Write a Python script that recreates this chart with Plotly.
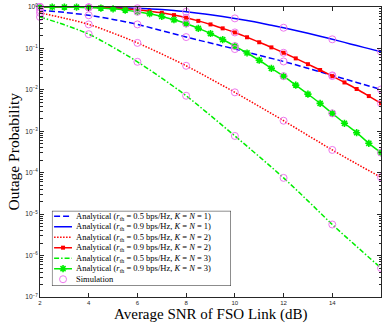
import plotly.graph_objects as go

# ---------------- data ----------------
snr_half = [2.0, 2.5, 3.0, 3.5, 4.0, 4.5, 5.0, 5.5, 6.0, 6.5, 7.0, 7.5, 8.0, 8.5, 9.0,
            9.5, 10.0, 10.5, 11.0, 11.5, 12.0, 12.5, 13.0, 13.5, 14.0, 14.5, 15.0, 15.5, 16.0]
snr_int = [2, 3, 4, 5, 6, 7, 8, 9, 10, 11, 12, 13, 14, 15, 16]
snr_sim = [2, 4, 6, 8, 10, 12, 14, 16]

# Analytical r_th = 0.5, K=N=1 (blue dashed)
p05_k1 = [0.837, 0.741, 0.631, 0.501, 0.380, 0.269, 0.188, 0.135, 0.0966, 0.0684,
          0.0484, 0.0331, 0.0224, 0.0151, 0.0102]
# Analytical r_th = 0.9, K=N=1 (blue solid)
p09_k1 = [1.0, 0.998, 0.995, 0.991, 0.986, 0.977, 0.966, 0.951, 0.933, 0.902,
          0.867, 0.822, 0.767, 0.711, 0.653, 0.592, 0.531, 0.473, 0.417, 0.363,
          0.316, 0.272, 0.232, 0.197, 0.166, 0.140, 0.117, 0.0989, 0.0832]
# Analytical r_th = 0.5, K=N=2 (red dotted)
p05_k2 = [0.721, 0.537, 0.380, 0.234, 0.136, 0.0733, 0.0381, 0.0184, 0.00871, 0.00398,
          0.0018, 7.94e-4, 3.55e-4, 1.64e-4, 7.76e-5]
# Analytical r_th = 0.9, K=N=2 (red solid, squares)
p09_k2 = [1.0, 0.998, 0.995, 0.991, 0.982, 0.968, 0.946, 0.908, 0.855, 0.794,
          0.724, 0.638, 0.550, 0.462, 0.380, 0.305, 0.243, 0.186, 0.141, 0.106,
          0.0785, 0.0575, 0.0417, 0.0302, 0.0215, 0.0151, 0.0105, 0.00708, 0.00473]
# Analytical r_th = 0.5, K=N=3 (green dash-dot)
p05_k3 = [0.575, 0.372, 0.221, 0.107, 0.0475, 0.0191, 0.00721, 0.0024, 7.71e-4, 2.45e-4,
          7.5e-5, 2.09e-5, 5.62e-6, 1.66e-6, 5.01e-7]
# Analytical r_th = 0.9, K=N=3 (green solid, asterisks)
p09_k3 = [1.0, 1.0, 0.995, 0.989, 0.973, 0.944, 0.902, 0.841, 0.767, 0.687,
          0.592, 0.492, 0.398, 0.305, 0.229, 0.164, 0.114, 0.0776, 0.0518, 0.0331,
          0.0214, 0.0130, 0.00789, 0.00471, 0.00271, 0.00156, 9.25e-4, 5.13e-4, 3.06e-4]

# Simulation points (one list per curve)
sim_05_k1 = [0.837, 0.631, 0.380, 0.188, 0.0966, 0.0484, 0.0224, 0.0102]
sim_09_k1 = [1.0, 0.986, 0.933, 0.767, 0.531, 0.316, 0.166, 0.0832]
sim_05_k2 = [0.721, 0.380, 0.136, 0.0381, 0.00871, 0.0018, 3.55e-4, 7.76e-5]
sim_09_k2 = [1.0, 0.982, 0.855, 0.550, 0.243, 0.0785, 0.0215, 0.00473]
sim_05_k3 = [0.575, 0.221, 0.0475, 0.00721, 7.71e-4, 7.5e-5, 5.62e-6, 5.01e-7]
sim_09_k3 = [1.0, 0.973, 0.767, 0.398, 0.114, 0.0214, 0.00271, 3.06e-4]

x_ticks = [2, 4, 6, 8, 10, 12, 14, 16]
y_exps = [0, -1, -2, -3, -4, -5, -6, -7]

legend_labels = [
    "Analytical (<i>r</i><sub>th</sub> = 0.5 bps/Hz, <i>K</i> = <i>N</i> = 1)",
    "Analytical (<i>r</i><sub>th</sub> = 0.9 bps/Hz, <i>K</i> = <i>N</i> = 1)",
    "Analytical (<i>r</i><sub>th</sub> = 0.5 bps/Hz, <i>K</i> = <i>N</i> = 2)",
    "Analytical (<i>r</i><sub>th</sub> = 0.9 bps/Hz, <i>K</i> = <i>N</i> = 2)",
    "Analytical (<i>r</i><sub>th</sub> = 0.5 bps/Hz, <i>K</i> = <i>N</i> = 3)",
    "Analytical (<i>r</i><sub>th</sub> = 0.9 bps/Hz, <i>K</i> = <i>N</i> = 3)",
    "Simulation",
]

# ---------------- styles ----------------
BLUE, RED, GREEN, SIM = "#0000ff", "#ff0000", "#00ee00", "#ee77ee"
AX = "#262626"
LW = 1.5
styles = [
    dict(color=BLUE, dash="6px,3px", marker=None),
    dict(color=BLUE, dash="solid", marker=None),
    dict(color=RED, dash="1.5px,1.5px", marker=None),
    dict(color=RED, dash="solid", marker=dict(symbol="square", size=4, color=RED)),
    dict(color=GREEN, dash="5px,2px,1.5px,2px", marker=None),
    dict(color=GREEN, dash="solid",
         marker=dict(symbol="asterisk", size=6, color=GREEN, line=dict(color=GREEN, width=1.6))),
]
series = [
    (snr_int, p05_k1), (snr_half, p09_k1), (snr_int, p05_k2),
    (snr_half, p09_k2), (snr_int, p05_k3), (snr_half, p09_k3),
]
sims = [sim_05_k1, sim_09_k1, sim_05_k2, sim_09_k2, sim_05_k3, sim_09_k3]

fig = go.Figure()
for (xs, ys), st in zip(series, styles):
    fig.add_trace(go.Scatter(
        x=xs, y=ys, mode="lines+markers" if st["marker"] else "lines",
        line=dict(color=st["color"], width=LW, dash=st["dash"], shape="spline"),
        marker=st["marker"], showlegend=False, cliponaxis=False, hoverinfo="skip"))

sim_x, sim_y = [], []
for s in sims:
    sim_x += snr_sim
    sim_y += s
fig.add_trace(go.Scatter(
    x=sim_x, y=sim_y, mode="markers",
    marker=dict(symbol="circle-open", size=7, color=SIM, line=dict(width=1, color=SIM)),
    showlegend=False, cliponaxis=False, hoverinfo="skip"))

# ---------------- manual compact legend (overlay axes) ----------------
row_y = [0.93, 0.79, 0.65, 0.51, 0.37, 0.23, 0.09]
for i, st in enumerate(styles):
    fig.add_trace(go.Scatter(
        x=[0.012, 0.112], y=[row_y[i], row_y[i]], xaxis="x2", yaxis="y2",
        mode="lines", line=dict(color=st["color"], width=LW, dash=st["dash"]),
        showlegend=False, hoverinfo="skip", cliponaxis=False))
    if st["marker"]:
        fig.add_trace(go.Scatter(
            x=[0.062], y=[row_y[i]], xaxis="x2", yaxis="y2", mode="markers",
            marker=st["marker"], showlegend=False, hoverinfo="skip", cliponaxis=False))
fig.add_trace(go.Scatter(
    x=[0.062], y=[row_y[6]], xaxis="x2", yaxis="y2", mode="markers",
    marker=dict(symbol="circle-open", size=7, color=SIM, line=dict(width=1, color=SIM)),
    showlegend=False, hoverinfo="skip", cliponaxis=False))

annotations = []
for i, lab in enumerate(legend_labels):
    annotations.append(dict(
        x=0.123, y=row_y[i], xref="x2", yref="y2", text=lab, showarrow=False,
        xanchor="left", yanchor="middle",
        font=dict(family="Liberation Serif", size=8.5, color="black")))

annotations.append(dict(
    x=0.5, y=-0.061, xref="paper", yref="paper", text="Average SNR of FSO Link (dB)",
    showarrow=False, xanchor="center", yanchor="middle",
    font=dict(family="Liberation Serif", size=15, color="black")))
annotations.append(dict(
    x=-0.0806, y=0.5, xref="paper", yref="paper", text="Outage Probability",
    showarrow=False, xanchor="center", yanchor="middle", textangle=-90,
    font=dict(family="Liberation Serif", size=15.5, color="black")))

minor_vals = [k * 10.0 ** d for d in range(-7, 0) for k in range(2, 10)]

fig.update_layout(
    width=382, height=336,
    margin=dict(l=40, r=1, t=7, b=39),
    paper_bgcolor="white", plot_bgcolor="white",
    showlegend=False,
    annotations=annotations,
    shapes=[dict(type="rect", xref="x2", yref="y2", x0=0, x1=1, y0=0, y1=1,
                 line=dict(color=AX, width=1), fillcolor="white", layer="below")],
    xaxis=dict(
        range=[2, 16], tickmode="array", tickvals=x_ticks,
        ticktext=[str(v) for v in x_ticks],
        ticks="inside", ticklen=4, tickwidth=1, tickcolor=AX,
        showline=True, linecolor=AX, linewidth=1, mirror="ticks",
        showgrid=False, zeroline=False,
        tickfont=dict(family="Liberation Sans", size=6, color=AX)),
    yaxis=dict(
        type="log", range=[-7, 0], tickmode="array",
        tickvals=[10.0 ** e for e in y_exps],
        ticktext=["10<sup>%s</sup>" % (str(e).replace("-", "\u2212")) for e in y_exps],
        ticks="inside", ticklen=4, tickwidth=1, tickcolor=AX,
        minor=dict(tickmode="array", tickvals=minor_vals, ticks="inside",
                   ticklen=2.5, tickcolor=AX, showgrid=False),
        showline=True, linecolor=AX, linewidth=1, mirror="ticks",
        showgrid=False, zeroline=False,
        tickfont=dict(family="Liberation Sans", size=6.5, color=AX)),
    xaxis2=dict(domain=[0.035, 0.56], range=[0, 1], anchor="y2", visible=False,
                fixedrange=True),
    yaxis2=dict(domain=[0.038, 0.297], range=[0, 1], anchor="x2", visible=False,
                fixedrange=True),
)

fig.write_html(
    "out.html",
    config={"displayModeBar": False, "staticPlot": True},
    post_script="document.body.style.margin='0';document.body.style.padding='0';",
)
